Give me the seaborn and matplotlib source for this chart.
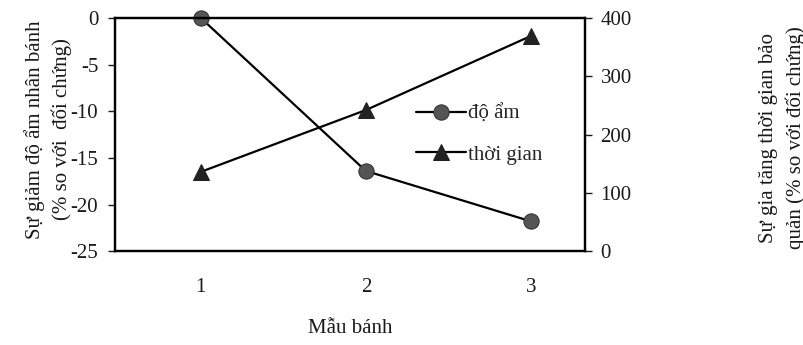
import pandas as pd
import seaborn as sns
from matplotlib import pyplot as plt

# values
mau_banh = [1, 2, 3]
do_am = [0, -16.4, -21.8]
thoi_gian = [136, 242, 369]

df = pd.DataFrame({"mau": mau_banh, "do_am": do_am, "thoi_gian": thoi_gian})

sns.set_theme(style="white")
plt.rcParams['font.family'] = ['Liberation Serif', 'DejaVu Serif']
plt.rcParams['axes.unicode_minus'] = False

fs = 15

fig = plt.figure(figsize=(8.04, 3.45), dpi=100)
ax = fig.add_axes([0.143, 0.272, 0.585, 0.676])
ax2 = ax.twinx()

sns.lineplot(data=df, x="mau", y="do_am", ax=ax, color="black", lw=1.6,
             marker="o", markersize=11, markerfacecolor="#555555",
             markeredgecolor="#333333", label="độ ẩm", legend=False, clip_on=False)
sns.lineplot(data=df, x="mau", y="thoi_gian", ax=ax2, color="black", lw=1.6,
             marker="^", markersize=12, markerfacecolor="#222222",
             markeredgecolor="#222222", label="thời gian", legend=False, clip_on=False)

ax.set_xlim(0.48, 3.33)
ax.set_ylim(-25, 0)
ax.set_yticks([0, -5, -10, -15, -20, -25])
ax2.set_ylim(0, 400)
ax2.set_yticks([0, 100, 200, 300, 400])
ax.set_xticks(mau_banh)

for a in (ax, ax2):
    for s in a.spines.values():
        s.set_color("black")
        s.set_linewidth(1.6)
    a.tick_params(labelsize=fs, colors="#1a1a1a", length=5, width=1, pad=4)
ax.tick_params(axis="y", left=True, direction="out", pad=7)
ax.tick_params(axis="x", bottom=False, pad=14)
ax2.tick_params(axis="y", right=True, direction="out", pad=6)

ax.set_xlabel("Mẫu bánh", fontsize=fs, labelpad=16, color="#1a1a1a")
ax.set_ylabel("")
ax2.set_ylabel("")

fig.text(0.06, 0.625, "Sự giảm độ ẩm nhân bánh\n(% so với  đối chứng)",
         rotation=90, ha="center", va="center", fontsize=fs,
         linespacing=1.45, color="#1a1a1a")
fig.text(0.973, 0.6, "Sự gia tăng thời gian bảo\nquản (% so với đối chứng)",
         rotation=90, ha="center", va="center", fontsize=fs,
         linespacing=1.45, color="#1a1a1a")

h1, l1 = ax.get_legend_handles_labels()
h2, l2 = ax2.get_legend_handles_labels()
ax2.legend(h1 + h2, l1 + l2, loc="center left", bbox_to_anchor=(0.6, 0.5),
           frameon=False, fontsize=fs, handlelength=2.4, handletextpad=0.1,
           labelspacing=1.0)

fig.savefig("out.png", dpi=100)
